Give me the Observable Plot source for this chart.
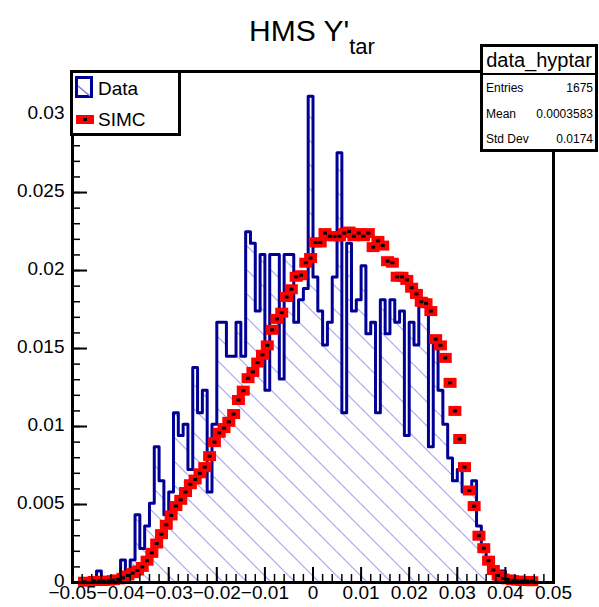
<!DOCTYPE html>
<html>
<head>
<meta charset="utf-8">
<script src="https://cdn.jsdelivr.net/npm/d3@7"></script>
<script src="https://cdn.jsdelivr.net/npm/@observablehq/plot@0.6"></script>
<style>
  html, body { margin: 0; padding: 0; background: #fff; }
  #wrap { position: relative; width: 599px; height: 607px; overflow: hidden; font-family: "Liberation Sans", Arial, sans-serif; }
  #chart { position: absolute; left: 0; top: 0; }
  #overlay { position: absolute; left: 0; top: 0; pointer-events: none; }
  #hatchFill path { stroke: #a2a2ff !important; stroke-width: 1.2px !important; }
</style>
</head>
<body>
<div id="wrap">
  <div id="chart"></div>
  <svg id="overlay" width="599" height="607" font-family="'Liberation Sans', Arial, sans-serif">
    <text x="312" y="41" text-anchor="middle" font-size="30" fill="#000">HMS Y'<tspan font-size="22" dy="13">tar</tspan></text>
    <rect x="71.5" y="71.5" width="108" height="63" fill="#fff" stroke="#000" stroke-width="3"/>
    <rect x="76.5" y="77.5" width="15" height="19" fill="none" stroke="#000096" stroke-width="3"/>
    <line x1="78" y1="86" x2="90" y2="96" style="stroke:#6f6ff5;stroke-width:1.3"/>
    <text x="98" y="95" font-size="19" fill="#000">Data</text>
    <rect x="76" y="115" width="18" height="9" fill="#ff0000"/>
    <rect x="83" y="118" width="4" height="3" fill="#000"/>
    <text x="98" y="126" font-size="19" fill="#000">SIMC</text>
    <rect x="481.5" y="45.5" width="115" height="105" fill="#fff" stroke="#000" stroke-width="3"/>
    <line x1="481" y1="74" x2="597" y2="74" stroke="#000" stroke-width="2"/>
    <text x="539" y="67" text-anchor="middle" font-size="20" fill="#000">data_hyptar</text>
    <text x="486" y="92" font-size="12" fill="#000">Entries</text>
    <text x="593" y="92" text-anchor="end" font-size="12" fill="#000">1675</text>
    <text x="486" y="118" font-size="12" fill="#000">Mean</text>
    <text x="593" y="118" text-anchor="end" font-size="12" fill="#000">0.0003583</text>
    <text x="486" y="143" font-size="12" fill="#000">Std Dev</text>
    <text x="593" y="143" text-anchor="end" font-size="12" fill="#000">0.0174</text>
  </svg>
</div>
<script>
// Histogram binning: 100 bins from -0.05 to 0.05
const binLow = -0.05;
const binWidth = 0.001;

// Data histogram (normalized), one value per bin
const dataValues = [
  0, 0, 0, 0, 0, 0.00073, 0, 0, 0, 0,
  0.00145, 0.00073, 0.00145, 0.00435, 0.00218, 0.00363, 0.00508, 0.0087, 0.00653, 0.00435,
  0.0058, 0.01088, 0.00943, 0.01015, 0.00725, 0.01378, 0.01088, 0.01233, 0.0058, 0.01015,
  0.01668, 0.01668, 0.0145, 0.0145, 0.01668, 0.0145, 0.02248, 0.02175, 0.0174, 0.02103,
  0.01233, 0.02103, 0.02103, 0.01305, 0.02103, 0.02103, 0.01668, 0.01813, 0.01885, 0.03118,
  0.01958, 0.0174, 0.01523, 0.01668, 0.01958, 0.02755, 0.01088, 0.02175, 0.0174, 0.01813,
  0.0203, 0.01595, 0.01668, 0.01088, 0.01813, 0.01595, 0.01813, 0.01668, 0.0174, 0.00943,
  0.01668, 0.01523, 0.01813, 0.01813, 0.0087, 0.01523, 0.01233, 0.01015, 0.00798, 0.00653,
  0.00725, 0.0058, 0.0058, 0.00653, 0.00363, 0.00218, 0.00145, 0.00073, 0, 0.00073,
  0, 0, 0, 0, 0, 0, 0, 0, 0, 0
];

// SIMC histogram (normalized), null where no point is drawn
const simcValues = [
  null, null, 0.00005, null, 0.0001, 0.0001, 0.0001, 0.00012, 0.00015, 0.0002,
  0.0003, 0.00045, 0.0006, 0.00077, 0.001, 0.0014, 0.0019, 0.0025, 0.0031, 0.0037,
  0.0043, 0.0049, 0.0053, 0.0058, 0.0063, 0.0066, 0.007, 0.0074, 0.0081, 0.009,
  0.0096, 0.0099, 0.0103, 0.0108, 0.0117, 0.0123, 0.0131, 0.0135, 0.0141, 0.0146,
  0.0152, 0.0162, 0.0169, 0.0173, 0.0183, 0.0188, 0.0196, 0.0197, 0.0205, 0.0208,
  0.0218, 0.0218, 0.0224, 0.0222, 0.0222, 0.0222, 0.0224, 0.0225, 0.0222, 0.0224,
  0.0222, 0.0224, 0.0215, 0.0219, 0.0216, 0.0206, 0.0205, 0.0196, 0.0196, 0.0194,
  0.0189, 0.0185, 0.018, 0.0179, 0.0174, 0.0156, 0.0152, 0.0144, 0.0128, 0.011,
  0.0092, 0.0074, 0.0059, 0.0049, 0.003, 0.0022, 0.0014, 0.0008, 0.00045, 0.00026,
  0.0002, 0.00015, 0.00012, 0.0001, 0.0001, 0.00008, null, null, null, null
];

const xTickValues = [-0.05, -0.04, -0.03, -0.02, -0.01, 0, 0.01, 0.02, 0.03, 0.04, 0.05];
const xTickLabels = ["\u22120.05", "\u22120.04", "\u22120.03", "\u22120.02", "\u22120.01", "0", "0.01", "0.02", "0.03", "0.04", "0.05"];
const yTickValues = [0, 0.005, 0.01, 0.015, 0.02, 0.025, 0.03];
const yTickLabels = ["0", "0.005", "0.01", "0.015", "0.02", "0.025", "0.03"];
const xDomain = [-0.05, 0.05];
const yDomain = [0, 0.03276];

const xMinorTicks = d3.range(0, 51).map(i => +(-0.05 + i * 0.002).toFixed(4));
const yMinorTicks = d3.range(0, 33).map(i => +(i * 0.001).toFixed(4));

const hist = dataValues.map((v, i) => ({
  lo: binLow + i * binWidth,
  hi: binLow + (i + 1) * binWidth,
  center: binLow + (i + 0.5) * binWidth,
  data: v,
  simc: simcValues[i]
}));

const W = 599, H = 607;
const mL = 72, mR = 46, mT = 71, mB = 25;
const frameW = W - mL - mR, frameH = H - mT - mB;

const redSym = { draw(ctx) { ctx.rect(-6.5, -5, 13, 10); } };
const blackSym = { draw(ctx) { ctx.rect(-2, -1.5, 4, 3); } };

const chart = Plot.plot({
  width: W, height: H,
  marginLeft: mL, marginRight: mR, marginTop: mT, marginBottom: mB,
  style: { fontFamily: "'Liberation Sans', Arial, sans-serif", background: "#fff", color: "#000" },
  x: { domain: xDomain },
  y: { domain: yDomain },
  marks: [
    Plot.rectY(hist, { x1: "lo", x2: "hi", y: "data", fill: "url(#hatchFill)" }),
    Plot.lineY(hist, { x: "center", y: "data", curve: "step", stroke: "#000096", strokeWidth: 3 }),
    Plot.dot(hist, { x: "center", y: "simc", symbol: redSym, fill: "#ff0000", stroke: "none", r: 4 }),
    Plot.dot(hist, { x: "center", y: "simc", symbol: blackSym, fill: "#000", stroke: "none", r: 2 }),
    Plot.ruleX(xMinorTicks, { insetTop: frameH - 8, stroke: "#000", strokeWidth: 1.5 }),
    Plot.ruleX(xTickValues, { insetTop: frameH - 15, stroke: "#000", strokeWidth: 2 }),
    Plot.ruleY(yMinorTicks, { insetRight: frameW - 8, stroke: "#000", strokeWidth: 1.5 }),
    Plot.ruleY(yTickValues, { insetRight: frameW - 15, stroke: "#000", strokeWidth: 2 }),
    Plot.frame({ stroke: "#000", strokeWidth: 3 }),
    Plot.axisX(xTickValues, { tickSize: 0, tickPadding: 3, fontSize: 19, label: null,
      tickFormat: d => xTickLabels[xTickValues.indexOf(d)] }),
    Plot.axisY(yTickValues, { tickSize: 0, tickPadding: 8, dy: -2, fontSize: 19, label: null,
      tickFormat: d => yTickLabels[yTickValues.indexOf(d)] })
  ]
});

// hatch pattern (ROOT fill style 3005) placed inside the chart's own SVG
const ns = "http://www.w3.org/2000/svg";
const defs = document.createElementNS(ns, "defs");
const pat = document.createElementNS(ns, "pattern");
pat.setAttribute("id", "hatchFill");
pat.setAttribute("patternUnits", "userSpaceOnUse");
pat.setAttribute("width", "24");
pat.setAttribute("height", "24");
pat.setAttribute("x", "1");
const ph = document.createElementNS(ns, "path");
ph.setAttribute("d", "M-2,-2 L26,26 M22,-2 L26,2 M-2,22 L2,26");
ph.setAttribute("style", "stroke:#a2a2ff;stroke-width:1.2;fill:none");
pat.appendChild(ph);
defs.appendChild(pat);
chart.insertBefore(defs, chart.firstChild);
document.getElementById("chart").appendChild(chart);
</script>
</body>
</html>
